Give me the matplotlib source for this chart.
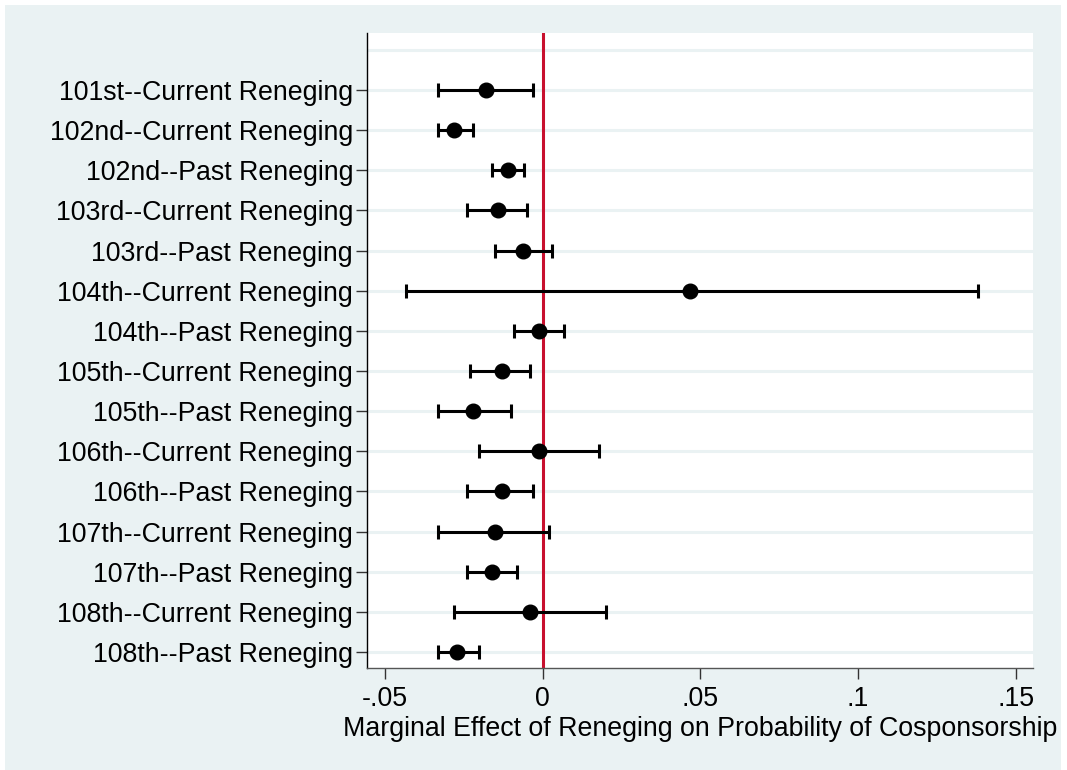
import numpy as np
import matplotlib.pyplot as plt
from matplotlib.patches import Rectangle

plt.rcParams['font.family'] = ['Liberation Sans', 'DejaVu Sans']

labels = ["101st--Current Reneging", "102nd--Current Reneging", "102nd--Past Reneging",
          "103rd--Current Reneging", "103rd--Past Reneging", "104th--Current Reneging",
          "104th--Past Reneging", "105th--Current Reneging", "105th--Past Reneging",
          "106th--Current Reneging", "106th--Past Reneging", "107th--Current Reneging",
          "107th--Past Reneging", "108th--Current Reneging", "108th--Past Reneging"]
est = [-0.0181, -0.0281, -0.0111, -0.0141, -0.0061, 0.0467, -0.0011,
       -0.0128, -0.0221, -0.0011, -0.0128, -0.0151, -0.0160, -0.0040, -0.0271]
lo = [-0.0331, -0.0331, -0.0160, -0.0241, -0.0150, -0.0432, -0.0091,
      -0.0230, -0.0331, -0.0201, -0.0241, -0.0331, -0.0241, -0.0281, -0.0331]
hi = [-0.0030, -0.0220, -0.0060, -0.0051, 0.0030, 0.1381, 0.0068,
      -0.0039, -0.0101, 0.0179, -0.0030, 0.0021, -0.0081, 0.0201, -0.0201]
xticks = [-0.05, 0, 0.05, 0.1, 0.15]
xticklabels = ["-.05", "0", ".05", ".1", ".15"]

bg = '#EAF2F3'
fs = 19.3
W, H = 1067, 770
fig = plt.figure(figsize=(W/100, H/100), dpi=100, facecolor='white')
fig.add_artist(Rectangle((5/W, 0), 1056/W, 765/H, transform=fig.transFigure,
                         facecolor=bg, edgecolor='none', zorder=-10))

ax = fig.add_axes([367/W, 1 - 668/H, (1033-367)/W, (668-33)/H])
ax.set_facecolor('white')

n = len(labels)
y = np.arange(n, 0, -1)
est = np.array(est); lo = np.array(lo); hi = np.array(hi)

for g in range(1, n + 2):
    ax.axhline(g, color=bg, lw=2.2, zorder=0)
ax.axvline(0, color='#C8102E', lw=2.2, zorder=1)
ax.errorbar(est, y, xerr=[est - lo, hi - est], fmt='o', color='black', ms=10.5,
            elinewidth=2.2, capsize=4.8, capthick=2.2, zorder=3)

ax.set_xlim(-0.0557, 0.1555)
ax.set_ylim(0.6, n + 1.42)
ax.set_yticks(y)
ax.set_yticklabels(labels, fontsize=fs)
ax.set_xticks(xticks)
ax.set_xticklabels(xticklabels, fontsize=fs)
ax.tick_params(axis='both', length=8, width=1, color='#333333')
ax.tick_params(axis='y', pad=2)
ax.tick_params(axis='x', pad=5)
ax.set_xlabel("Marginal Effect of Reneging on Probability of Cosponsorship", fontsize=fs, labelpad=3)

for s in ['top', 'right']:
    ax.spines[s].set_visible(False)
ax.spines['left'].set_color('black')
ax.spines['bottom'].set_color('#555555')
ax.spines['left'].set_linewidth(1)
ax.spines['bottom'].set_linewidth(1)

fig.savefig("out.png", dpi=100, facecolor=fig.get_facecolor())
